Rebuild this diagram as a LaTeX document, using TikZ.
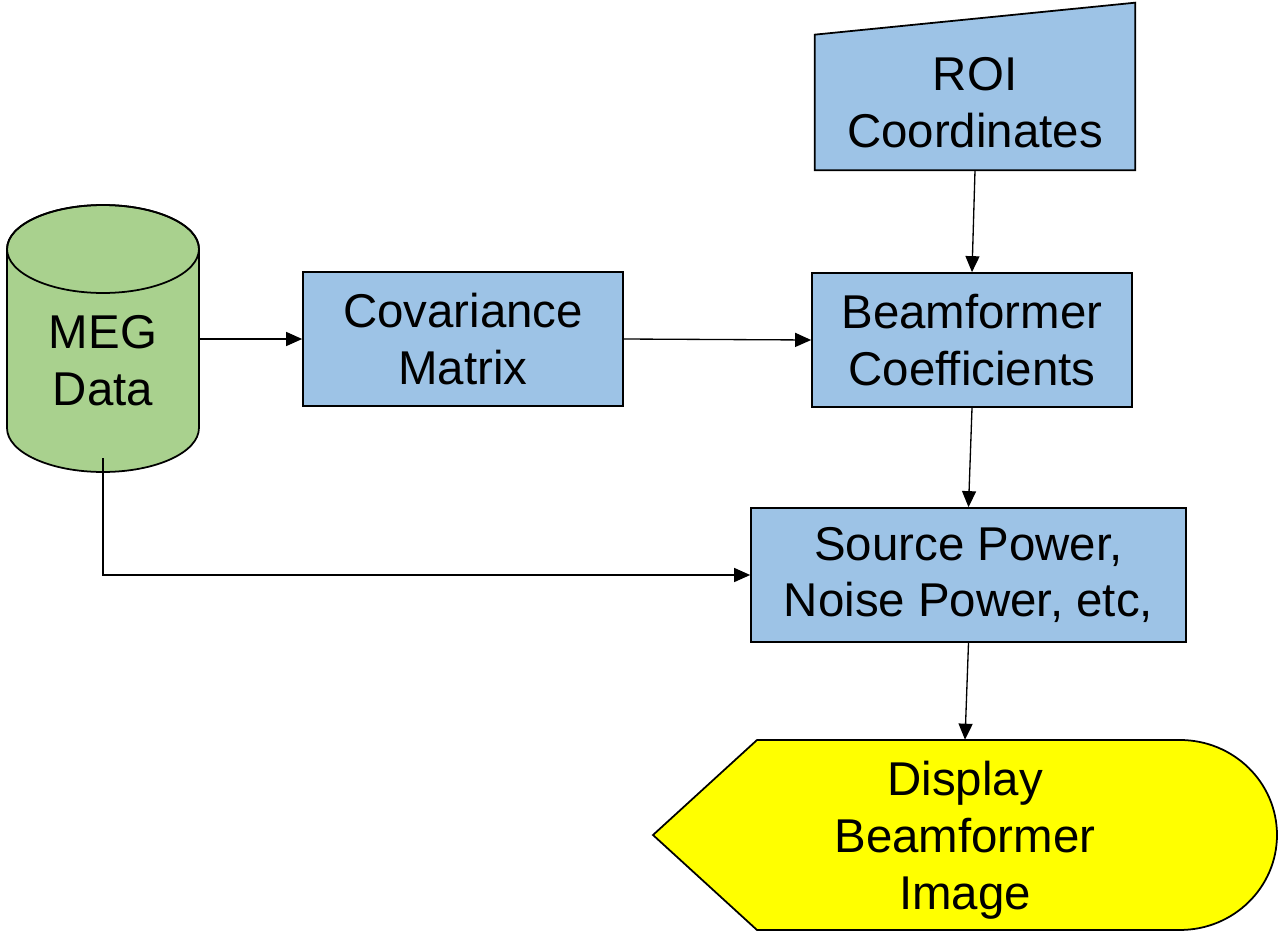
\documentclass[tikz,border=0pt]{standalone}
\usepackage{fontspec}
\setmainfont{Liberation Sans}
\usepackage{tikz}
\usetikzlibrary{positioning}
\usetikzlibrary{calc}
\usetikzlibrary{arrows.meta}
\pgfdeclarelayer{flowbg}
\pgfsetlayers{flowbg,main}

\definecolor{procblue}{HTML}{9DC3E6}
\definecolor{datagreen}{HTML}{A9D18E}
\definecolor{dispyellow}{HTML}{FFFF00}

\begin{document}
\begin{tikzpicture}[x=0.02cm, y=-0.02cm,
		every node/.style={font=\fontsize{27}{32.4}\selectfont, align=center, inner sep=0pt, execute at begin node={\rule{0pt}{24.5pt}}},
		proc/.style={draw, line width=1pt, fill=procblue, minimum height=2.68cm},
		flow/.style={line width=0.75pt, -{Triangle[length=3.2mm, width=2.8mm]}}]
		
		\useasboundingbox (0,0) rectangle (1281,933);
		
		% boxes
		\node at (463,339) [proc, minimum width=6.4cm] (cov) {Covariance\\Matrix};
		\node at (972,340) [proc, minimum width=6.4cm] (bfc) {Beamformer\\Coefficients};
		\node at (968.5,575) [proc, minimum width=8.7cm] (srcpow) {Source Power,\\Noise Power, etc,};
		
		% the odd shapes get their outline on the back layer
		\node at (975,102.5) [minimum width=6.4cm, minimum height=2.7cm] (roi) {ROI\\Coordinates};
		\node at (103,361) [minimum width=3.84cm, minimum height=1cm] (meg) {MEG\\Data};
		\node at (965,840) [minimum width=4cm, minimum height=4cm] (disp) {Display\\Beamformer\\Image};
		\coordinate (megbot) at (103,458);
		
		\begin{pgfonlayer}{flowbg}
		\draw [line width=1pt, fill=procblue] (roi.south west) -- (roi.south east) -- ($(roi.north east)+(0,-32)$) -- (roi.north west) -- cycle;
		\draw [line width=1pt, fill=datagreen] (7,249) -- (7,428) arc[start angle=180, end angle=360, x radius=1.92cm, y radius=0.88cm] -- (199,249) arc[start angle=0, end angle=180, x radius=1.92cm, y radius=0.88cm] -- cycle;
		\draw [line width=1pt] (103,249) ellipse [x radius=1.92cm, y radius=0.88cm];
		\draw [line width=1pt, fill=dispyellow] (653,835) -- (757,740) -- (1180,740) arc[start angle=90, end angle=-90, x radius=1.94cm, y radius=1.9cm] -- (757,930) -- cycle;
		\end{pgfonlayer}
		
		% connectors
		\draw [flow] (meg.east |- cov.west) -- (cov.west);
		\draw [flow] (cov.east) -- (bfc.west);
		\draw [flow] (roi.south) -- (bfc.north);
		\draw [flow] (bfc.south) -- (srcpow.north);
		\draw [flow] (megbot) |- (srcpow.west);
		\draw [flow] (srcpow.south) -- (disp.north);
		
\end{tikzpicture}
\end{document}
